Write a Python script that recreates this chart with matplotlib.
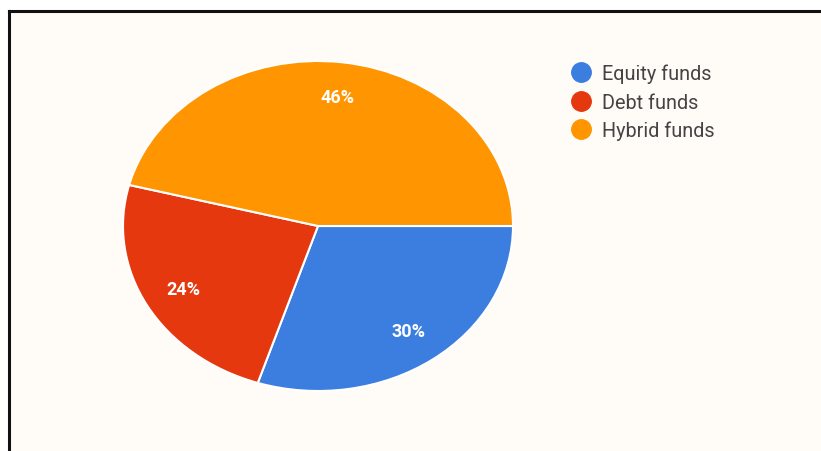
import matplotlib.pyplot as plt
from matplotlib.patches import Rectangle
from matplotlib.lines import Line2D

labels = ["Equity funds", "Debt funds", "Hybrid funds"]
shares = [30, 24, 46]
colors = ["#3b7ee0", "#e5380f", "#ff9500"]

plt.rcParams['font.family'] = ['Roboto', 'DejaVu Sans']

W, H = 821, 452
fig = plt.figure(figsize=(W / 100, H / 100), dpi=100)
fig.patch.set_facecolor("white")

# cream panel with the black frame on top and left
fig.add_artist(Rectangle((10 / W, 0), 1, 1 - 12 / H, transform=fig.transFigure,
                         facecolor="#fffcf8", edgecolor="none", zorder=-10))
fig.add_artist(Line2D([9 / W, 1], [1 - 11.5 / H, 1 - 11.5 / H], transform=fig.transFigure,
                      color="#111111", linewidth=2.2, zorder=-5))
fig.add_artist(Line2D([9 / W, 9 / W], [0, 1 - 11.5 / H], transform=fig.transFigure,
                      color="#111111", linewidth=2.2, zorder=-5))

# pie is stretched into an ellipse, so use auto aspect
cx, cy, rx, ry = 318, 227, 195, 165
ax = fig.add_axes([(cx - rx) / W, (H - cy - ry) / H, 2 * rx / W, 2 * ry / H])
wedges, texts, autotexts = ax.pie(
    shares, colors=colors, startangle=0, counterclock=False,
    autopct='%d%%', pctdistance=0.79,
    wedgeprops=dict(edgecolor="white", linewidth=1.5),
    textprops=dict(color="white", fontsize=13, fontweight="bold"))
ax.set_aspect('auto')
ax.set_xlim(-1, 1)
ax.set_ylim(-1, 1)
ax.axis('off')

handles = [Line2D([], [], marker='o', linestyle='none', markersize=14,
                  markerfacecolor=c, markeredgecolor=c) for c in colors]
leg = fig.legend(handles, labels, loc='upper left', bbox_to_anchor=(551 / W, 1 - 47 / H),
                 frameon=False, handletextpad=0.45, labelspacing=0.46,
                 prop=dict(size=14.3), handlelength=1.2)
for t in leg.get_texts():
    t.set_color("#444444")

fig.savefig("out.png", dpi=100)
